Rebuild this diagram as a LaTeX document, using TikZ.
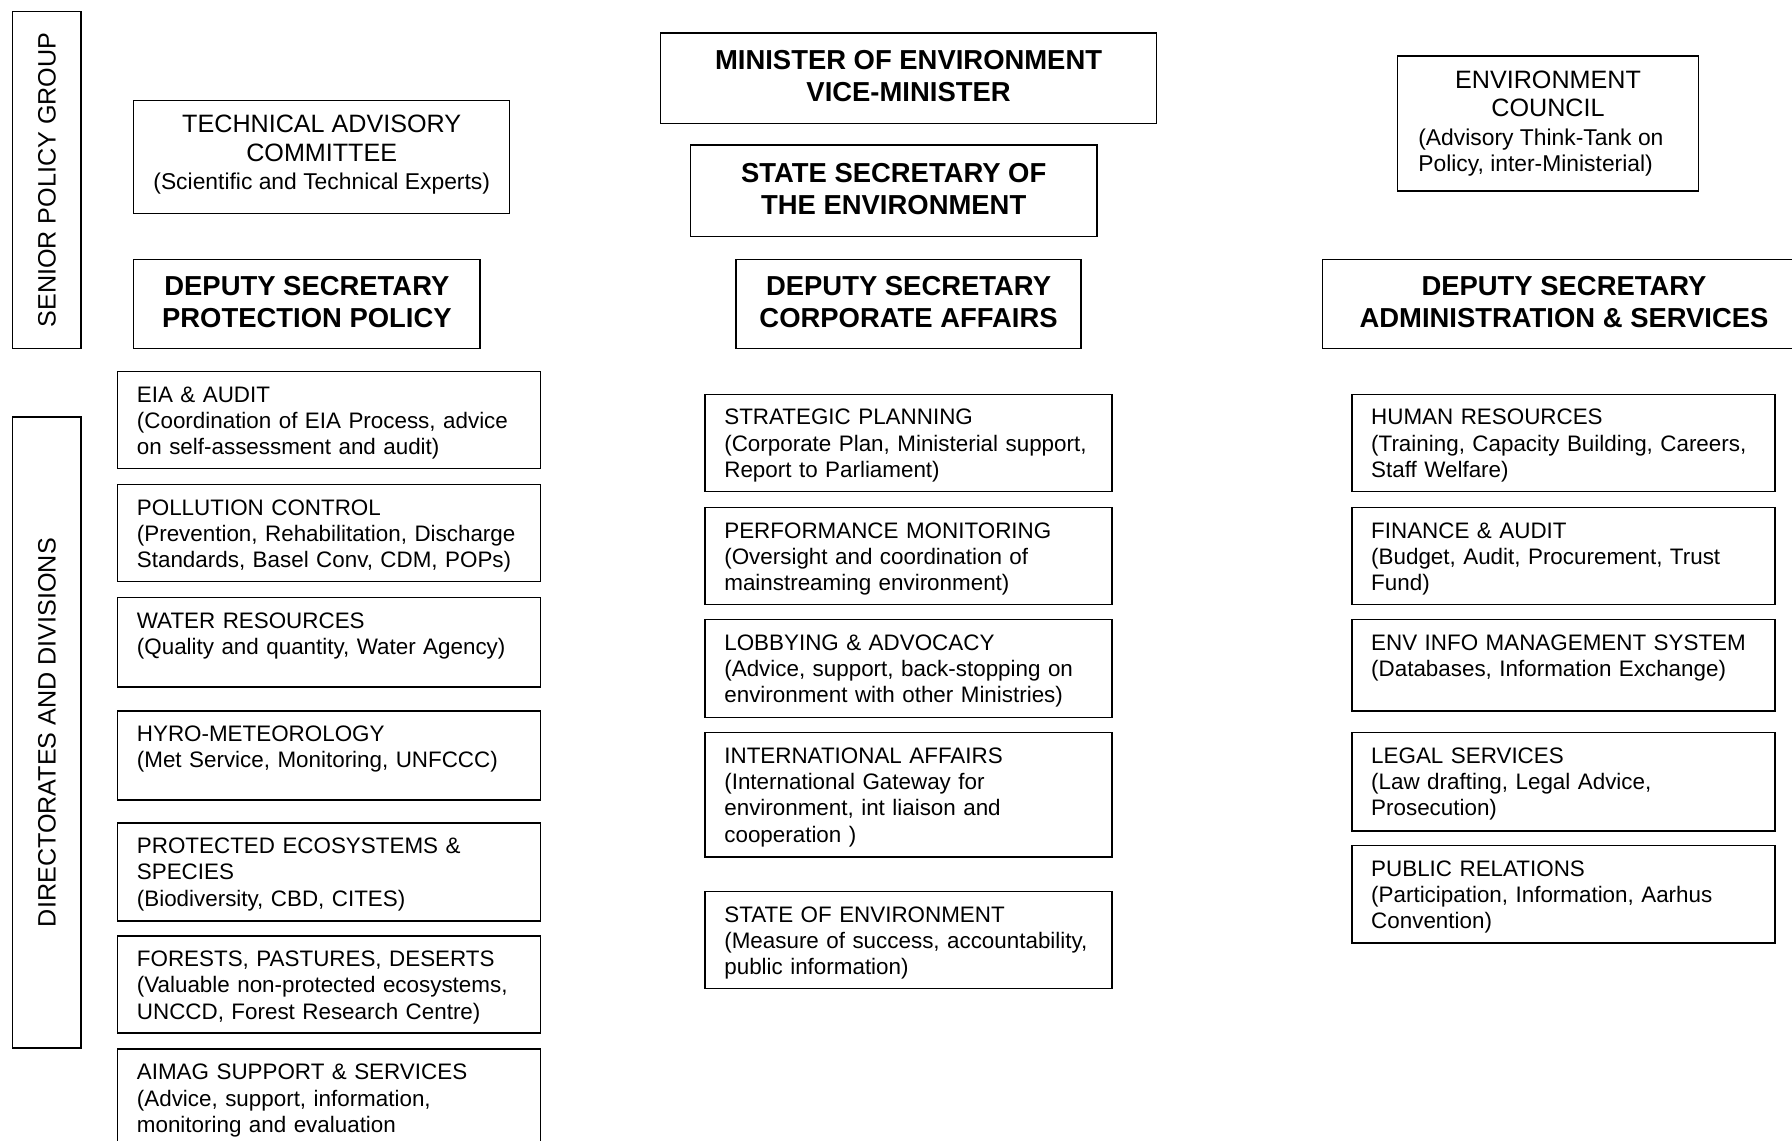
\documentclass[tikz,border=0pt]{standalone}
\usepackage{fontspec}
\setmainfont{Liberation Sans}
\usetikzlibrary{fit}

\newcommand{\unitfont}{\fontsize{9.8}{11.5}\selectfont}
\newcommand{\notefont}{\fontsize{10}{11.5}\selectfont}
\newcommand{\panelfont}{\fontsize{11}{12.5}\selectfont}
\newcommand{\bossfont}{\fontsize{12}{14}\selectfont\bfseries}

\begin{document}
\begin{tikzpicture}[
    x=0.5pt, y=-0.5pt,
    box/.style={draw, line width=0.6pt, inner sep=0pt},
    mid text/.style={anchor=center, yshift=1pt, align=center},
    boss text/.style={mid text, font=\bossfont},
    panel text/.style={mid text, font=\panelfont},
    side text/.style={anchor=center, rotate=90, font=\panelfont},
    unit text/.style={anchor=north west, font=\unitfont, align=left, text width=172pt, inner xsep=8.5pt, inner ysep=5.5pt, text height=8pt},
]

\useasboundingbox (0,0) rectangle (1568,998);
\clip (0,0) rectangle (1568,998);

% Side bands
\node[box, fit={(11,10) (71,305)}, label={[side text]center:SENIOR POLICY GROUP}] (spg) {};
\node[box, fit={(11,365) (71,917)}, label={[side text]center:DIRECTORATES AND DIVISIONS}] (dad) {};

% Top of the ministry
\node[box, fit={(578,29) (1012,108)}, label={[boss text]center:{MINISTER OF ENVIRONMENT\\VICE-MINISTER}}] (min) {};
\node[box, fit={(604,127) (960,207)}, label={[boss text]center:{STATE SECRETARY OF\\THE ENVIRONMENT}}] (sse) {};
\node[box, fit={(117,88) (446,187)}, label={[panel text]center:{TECHNICAL ADVISORY\\COMMITTEE\\{\notefont (Scientific and Technical Experts)}}}] (tac) {};
\node[box, fit={(1223,49) (1486,167)}, label={[mid text, yshift=-1pt, font=\notefont, align=left]center:{%
    \makebox[113.5pt]{\panelfont ENVIRONMENT}\\[1pt]
    \makebox[113.5pt]{\panelfont COUNCIL}\\[1pt]
    (Advisory Think-Tank on\\Policy, inter-Ministerial)}}] (council) {};

% Deputy secretaries
\node[box, fit={(117,227) (420,305)}, label={[boss text]center:{DEPUTY SECRETARY\\PROTECTION POLICY}}] (dsp) {};
\node[box, fit={(644,227) (946,305)}, label={[boss text]center:{DEPUTY SECRETARY\\CORPORATE AFFAIRS}}] (dsc) {};
\node[box, fit={(1157,227) (1580,305)}, label={[boss text]center:{DEPUTY SECRETARY\\ADMINISTRATION \& SERVICES}}] (dsa) {};

% Protection policy divisions
\node[box, fit={(103,325) (473,410)}, label={[unit text]north west:{EIA \& AUDIT\\(Coordination of EIA Process, advice\\on self-assessment and audit)}}] (eia) {};
\node[box, fit={(103,424) (473,509)}, label={[unit text]north west:{POLLUTION CONTROL\\(Prevention, Rehabilitation, Discharge\\Standards, Basel Conv, CDM, POPs)}}] (poll) {};
\node[box, fit={(103,523) (473,601)}, label={[unit text]north west:{WATER RESOURCES\\(Quality and quantity, Water Agency)}}] (water) {};
\node[box, fit={(103,622) (473,700)}, label={[unit text]north west:{HYRO-METEOROLOGY\\(Met Service, Monitoring, UNFCCC)}}] (hydro) {};
\node[box, fit={(103,720) (473,806)}, label={[unit text]north west:{PROTECTED ECOSYSTEMS \&\\SPECIES\\(Biodiversity, CBD, CITES)}}] (eco) {};
\node[box, fit={(103,819) (473,904)}, label={[unit text]north west:{FORESTS, PASTURES, DESERTS\\(Valuable non-protected ecosystems,\\UNCCD, Forest Research Centre)}}] (forest) {};
\node[box, fit={(103,918) (473,1004)}, label={[unit text]north west:{AIMAG SUPPORT \& SERVICES\\(Advice, support, information,\\monitoring and evaluation}}] (aimag) {};

% Corporate affairs divisions
\node[box, fit={(617,345) (973,430)}, label={[unit text]north west:{STRATEGIC PLANNING\\(Corporate Plan, Ministerial support,\\Report to Parliament)}}] (plan) {};
\node[box, fit={(617,444) (973,529)}, label={[unit text]north west:{PERFORMANCE MONITORING\\(Oversight and coordination of\\mainstreaming environment)}}] (perf) {};
\node[box, fit={(617,542) (973,628)}, label={[unit text]north west:{LOBBYING \& ADVOCACY\\(Advice, support, back-stopping on\\environment with other Ministries)}}] (lobby) {};
\node[box, fit={(617,641) (973,750)}, label={[unit text]north west:{INTERNATIONAL AFFAIRS\\(International Gateway for\\environment, int liaison and\\cooperation )}}] (intl) {};
\node[box, fit={(617,780) (973,865)}, label={[unit text]north west:{STATE OF ENVIRONMENT\\(Measure of success, accountability,\\public information)}}] (soe) {};

% Administration divisions
\node[box, fit={(1183,345) (1553,430)}, label={[unit text]north west:{HUMAN RESOURCES\\(Training, Capacity Building, Careers,\\Staff Welfare)}}] (hr) {};
\node[box, fit={(1183,444) (1553,529)}, label={[unit text]north west:{FINANCE \& AUDIT\\(Budget, Audit, Procurement, Trust\\Fund)}}] (fin) {};
\node[box, fit={(1183,542) (1553,622)}, label={[unit text]north west:{ENV INFO MANAGEMENT SYSTEM\\(Databases, Information Exchange)}}] (emis) {};
\node[box, fit={(1183,641) (1553,727)}, label={[unit text]north west:{LEGAL SERVICES\\(Law drafting, Legal Advice,\\Prosecution)}}] (legal) {};
\node[box, fit={(1183,740) (1553,825)}, label={[unit text]north west:{PUBLIC RELATIONS\\(Participation, Information, Aarhus\\Convention)}}] (pr) {};

\end{tikzpicture}
\end{document}
